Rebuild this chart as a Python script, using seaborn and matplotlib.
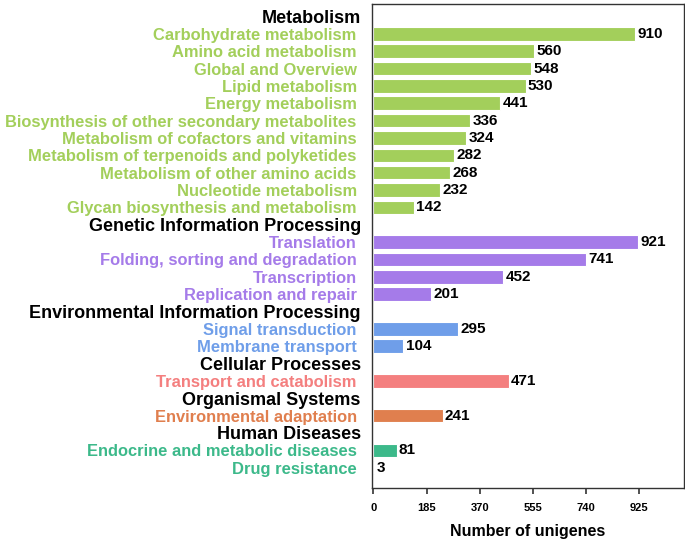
import pandas as pd
import seaborn as sns
import matplotlib.pyplot as plt

# KEGG classes, in display order
groups = ["Metabolism", "Genetic Information Processing", "Environmental Information Processing",
          "Cellular Processes", "Organismal Systems", "Human Diseases"]

terms = {
    "Metabolism": ["Carbohydrate metabolism", "Amino acid metabolism", "Global and Overview",
                   "Lipid metabolism", "Energy metabolism", "Biosynthesis of other secondary metabolites",
                   "Metabolism of cofactors and vitamins", "Metabolism of terpenoids and polyketides",
                   "Metabolism of other amino acids", "Nucleotide metabolism",
                   "Glycan biosynthesis and metabolism"],
    "Genetic Information Processing": ["Translation", "Folding, sorting and degradation",
                                       "Transcription", "Replication and repair"],
    "Environmental Information Processing": ["Signal transduction", "Membrane transport"],
    "Cellular Processes": ["Transport and catabolism"],
    "Organismal Systems": ["Environmental adaptation"],
    "Human Diseases": ["Endocrine and metabolic diseases", "Drug resistance"],
}

counts = {
    "Metabolism": [910, 560, 548, 530, 441, 336, 324, 282, 268, 232, 142],
    "Genetic Information Processing": [921, 741, 452, 201],
    "Environmental Information Processing": [295, 104],
    "Cellular Processes": [471],
    "Organismal Systems": [241],
    "Human Diseases": [81, 3],
}

colors = {
    "Metabolism": "#a3cf5b",
    "Genetic Information Processing": "#a57be9",
    "Environmental Information Processing": "#6f9ee9",
    "Cellular Processes": "#f47f7f",
    "Organismal Systems": "#e07f4e",
    "Human Diseases": "#3cb98a",
}

xticks = [0, 185, 370, 555, 740, 925]

# build table: a header row (no bar) followed by its terms
rows = []
for g in groups:
    rows.append({"label": g, "value": float("nan"), "group": g, "header": True})
    for t, v in zip(terms[g], counts[g]):
        rows.append({"label": t, "value": v, "group": g, "header": False})
df = pd.DataFrame(rows)

sns.set_style("white")
plt.rcParams["font.family"] = ["Liberation Sans", "DejaVu Sans"]
plt.rcParams["font.weight"] = "bold"
plt.rcParams["text.color"] = "black"

fig = plt.figure(figsize=(6.85, 5.43), dpi=100)
ax = fig.add_axes([0.543, 0.102, 0.455, 0.89])

sns.barplot(data=df, x="value", y="label", hue="group", palette=colors, dodge=False,
            order=list(df["label"]), width=0.78, edgecolor="white", linewidth=0.8,
            saturation=1, legend=False, ax=ax)

# value labels
for i, r in df.iterrows():
    if not r["header"]:
        ax.text(r["value"] + 8, i, str(int(r["value"])), va="center", ha="left",
                fontsize=11, fontweight="bold", color="black")

# term labels coloured like the bars; class headers drawn separately in black
ax.set_yticks(range(len(df)))
ax.set_yticklabels(["" if h else l for l, h in zip(df["label"], df["header"])])
for lab, (_, r) in zip(ax.get_yticklabels(), df.iterrows()):
    lab.set_color(colors[r["group"]])
    lab.set_fontsize(11.9)
    lab.set_fontweight("bold")

for i, r in df[df["header"]].iterrows():
    ax.annotate(r["label"], xy=(0, i), xycoords=ax.get_yaxis_transform(),
                xytext=(-8, 0), textcoords="offset points", ha="right", va="center_baseline",
                fontsize=13, fontweight="bold", color="black", annotation_clip=False)

ax.set_xlim(-5, 1080)
ax.set_ylim(len(df) - 1 + 1.15, -0.7)
ax.set_xticks(xticks)
ax.set_xticklabels([str(x) for x in xticks], fontsize=8, fontweight="bold", color="black")
ax.tick_params(axis="y", length=0, pad=11)
ax.tick_params(axis="x", length=4, width=1.2, direction="out", bottom=True, pad=7, color="#333333")
ax.set_xlabel("Number of unigenes", fontsize=11.5, fontweight="bold", labelpad=8, color="black")
ax.set_ylabel("")

for s in ax.spines.values():
    s.set_visible(True)
    s.set_color("#333333")
    s.set_linewidth(1.0)

plt.savefig("out.png", dpi=100)
